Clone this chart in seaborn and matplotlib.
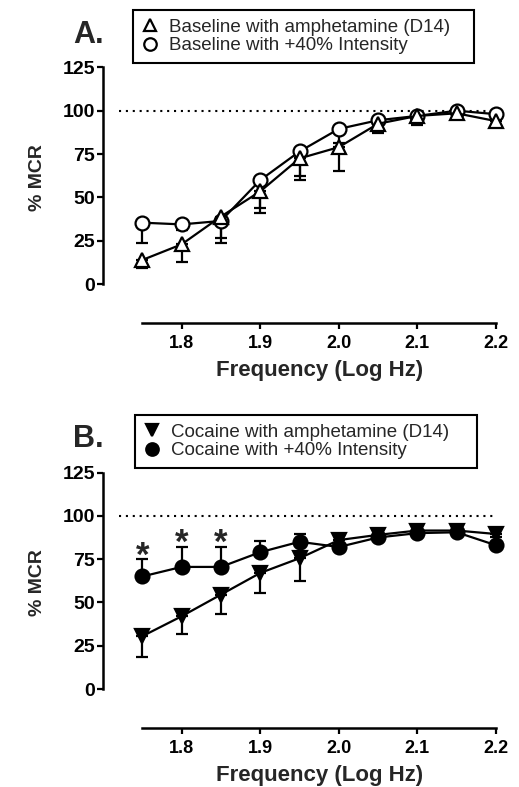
import numpy as np
import pandas as pd
import matplotlib
matplotlib.use("Agg")
import matplotlib.pyplot as plt
from matplotlib.lines import Line2D
import seaborn as sns

# ---------------- data ----------------
freq = [1.75, 1.80, 1.85, 1.90, 1.95, 2.00, 2.05, 2.10, 2.15, 2.20]
x_ticks = [1.8, 1.9, 2.0, 2.1, 2.2]
y_ticks = [0, 25, 50, 75, 100, 125]

# Panel A
a_amph_mean = [14, 23, 39, 53.5, 72.5, 79, 92.5, 97, 98.5, 94]
a_amph_sem = [4.5, 10, 12.5, 12.5, 12.5, 13.5, 5.4, 5.0, 2, 2]
a_int_mean = [35.5, 34.5, 36.5, 60, 76.5, 89.5, 94.5, 97, 100, 98]
a_int_sem = [11.5, 3, 13, 16.3, 14.4, 8, 2, 2, 1, 1.5]

# Panel B
b_amph_mean = [30.5, 42, 54.5, 67, 75.5, 86, 89, 91.5, 91.5, 89.5]
b_amph_sem = [12, 10.5, 11, 11.5, 13, 2, 2, 2, 2, 2]
b_int_mean = [65, 70.5, 70.5, 79, 85, 82, 87.5, 90, 90.5, 83]
b_int_sem = [10, 11.5, 11.5, 6.7, 4.3, 2, 2, 1.5, 1.5, 2]
b_signif = [True, True, True, False, False, False, False, False, False, False]

labels_a = ["Baseline with amphetamine (D14)", "Baseline with +40% Intensity"]
labels_b = ["Cocaine with amphetamine (D14)", "Cocaine with +40% Intensity"]

# ---------------- style ----------------
sns.set_style("ticks")
plt.rcParams["font.family"] = ["Liberation Sans", "DejaVu Sans"]

W, H = 519, 787
fig = plt.figure(figsize=(W / 100, H / 100), dpi=100)

LW = 1.6


def setup_axis(ax):
    ax.set_xlim(1.70, 2.2)
    ax.set_ylim(-22.3, 125)
    sns.despine(ax=ax)
    ax.spines["left"].set_bounds(0, 125)
    ax.spines["bottom"].set_bounds(1.75, 2.2)
    for s in ("left", "bottom"):
        ax.spines[s].set_linewidth(1.8)
        ax.spines[s].set_color("black")
    ax.set_xticks(x_ticks)
    ax.set_xticklabels([f"{v:.1f}" for v in x_ticks])
    ax.set_yticks(y_ticks)
    ax.set_yticklabels([str(v) for v in y_ticks])
    ax.tick_params(axis="x", length=4, width=1.6, pad=4.5, labelsize=13, colors="black")
    ax.tick_params(axis="y", length=4, width=1.6, pad=1.5, labelsize=14, colors="black")
    for lab in ax.get_xticklabels() + ax.get_yticklabels():
        lab.set_fontweight("bold")
    ax.set_xlabel("Frequency (Log Hz)", fontsize=16, fontweight="bold")
    ax.set_ylabel("% MCR", fontsize=14, fontweight="bold")
    ax.xaxis.set_label_coords(0.552, -0.145)
    ax.yaxis.set_label_coords(-0.145, 0.57)
    ax.hlines(100, 1.72, 2.2, colors="black", linewidth=1.5,
              linestyles=(0, (1, 2.3)), zorder=1)
    ax.set_facecolor("white")


def draw_panel(ax, series, fill):
    # series: list of (label, mean, sem, marker, direction)
    rows = []
    for lab, m, s, mk, d in series:
        for f, v in zip(freq, m):
            rows.append({"freq": f, "mcr": v, "group": lab})
    df = pd.DataFrame(rows)
    order = [s[0] for s in series]
    markers = {s[0]: s[3] for s in series}
    for lab, m, s, mk, d in series:
        if d == "down":
            yerr = [s, [0] * len(s)]
        else:
            yerr = [[0] * len(s), s]
        eb = ax.errorbar(freq, m, yerr=yerr, fmt="none", ecolor="black",
                         elinewidth=1.6, capsize=4.5, capthick=1.6, zorder=1.5)
        for c in eb.lines[1] + eb.lines[2]:
            c.set_clip_on(False)
    sns.lineplot(data=df, x="freq", y="mcr", hue="group", style="group",
                 hue_order=order, style_order=order,
                 palette={o: "black" for o in order}, markers=markers,
                 dashes=False, linewidth=LW, markersize=10,
                 markerfacecolor=fill, markeredgecolor="black",
                 markeredgewidth=1.6, legend=False, ax=ax, clip_on=False,
                 zorder=3)


# ---------------- Panel A ----------------
axA = fig.add_axes([103 / W, 1 - 323 / H, 393 / W, 255.7 / H])
setup_axis(axA)
draw_panel(axA, [
    (labels_a[1], a_int_mean, a_int_sem, "o", "down"),
    (labels_a[0], a_amph_mean, a_amph_sem, "^", "down"),
], "white")

# ---------------- Panel B ----------------
axB = fig.add_axes([103 / W, 1 - 727.7 / H, 393 / W, 255.2 / H])
setup_axis(axB)
draw_panel(axB, [
    (labels_b[0], b_amph_mean, b_amph_sem, "v", "down"),
    (labels_b[1], b_int_mean, b_int_sem, "o", "up"),
], "black")

# significance asterisks
for f, m, s, sig in zip(freq, b_int_mean, b_int_sem, b_signif):
    if sig:
        axB.annotate("*", xy=(f, m + s), xytext=(0, -4.5), textcoords="offset points",
                     ha="center", va="baseline", fontsize=25, fontweight="bold")

# ---------------- legends ----------------
def make_legend(ax, labels, mk, fill, top_px, left_px, right_px):
    handles = [Line2D([], [], linestyle="none", marker=mk[0], markersize=9,
                      markerfacecolor=fill, markeredgecolor="black", markeredgewidth=1.6),
               Line2D([], [], linestyle="none", marker=mk[1], markersize=9,
                      markerfacecolor=fill, markeredgecolor="black", markeredgewidth=1.6)]
    leg = fig.legend(handles, labels, loc="upper left",
                     bbox_to_anchor=(left_px / W, 1 - top_px / H, (right_px - left_px) / W, 0.0),
                     bbox_transform=fig.transFigure, mode="expand",
                     fontsize=13.5, frameon=True, fancybox=False, framealpha=1,
                     edgecolor="black", borderpad=0.45, labelspacing=0.08,
                     handlelength=0.9, handletextpad=0.55, borderaxespad=0)
    leg.get_frame().set_linewidth(1.5)
    return leg

make_legend(axA, labels_a, ["^", "o"], "white", 10, 133, 474)
make_legend(axB, labels_b, ["v", "o"], "black", 415, 135, 477)

# ---------------- panel letters ----------------
fig.text(73 / W, 1 - 43 / H, "A.", fontsize=22, fontweight="bold", va="baseline", ha="left")
fig.text(73 / W, 1 - 447 / H, "B.", fontsize=22, fontweight="bold", va="baseline", ha="left")

fig.savefig("out.png", dpi=100, facecolor="white")
